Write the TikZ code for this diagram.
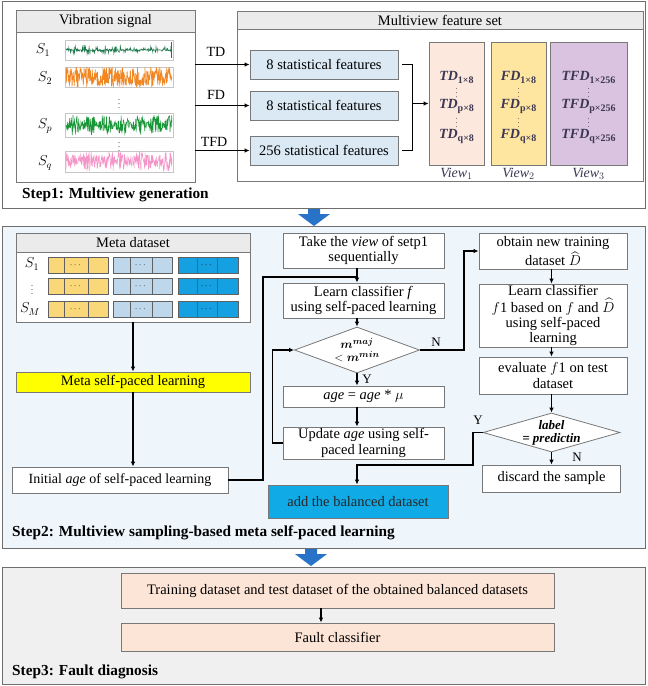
\documentclass[tikz,border=0pt]{standalone}
\usepackage{fontspec}
\usepackage{amsmath}
\setmainfont{Liberation Serif}
\usetikzlibrary{arrows.meta,shapes.geometric,calc}
\definecolor{boxgray}{RGB}{120,120,120}
\definecolor{panelgray}{RGB}{110,110,110}
\definecolor{headgray}{RGB}{235,235,235}
\definecolor{featblue}{RGB}{218,233,243}
\definecolor{vonecol}{RGB}{252,232,220}
\definecolor{vtwocol}{RGB}{255,230,160}
\definecolor{vthreecol}{RGB}{218,195,225}
\definecolor{cellY}{RGB}{250,215,120}
\definecolor{cellL}{RGB}{190,215,235}
\definecolor{cellB}{RGB}{20,160,225}
\definecolor{stepbg}{RGB}{238,245,251}
\definecolor{stepthreebg}{RGB}{240,240,240}
\definecolor{peach}{RGB}{252,228,214}
\definecolor{addblue}{RGB}{16,170,230}
\definecolor{arrowblue}{RGB}{40,115,200}
\definecolor{myyellow}{RGB}{255,255,0}
\definecolor{vtext}{RGB}{60,55,85}
\definecolor{sonecol}{RGB}{30,120,75}
\definecolor{stwocol}{RGB}{240,135,35}
\definecolor{spcol}{RGB}{25,150,55}
\definecolor{sqcol}{RGB}{245,150,200}
\newcommand{\vsub}[2]{\textbf{\textit{#1}}\raisebox{-3pt}{\fontsize{10}{10}\selectfont\bfseries #2}}
\begin{document}
\begin{tikzpicture}[x=1pt,y=-1pt,
  font=\fontsize{14.5}{15.5}\selectfont,
  box/.style={draw=boxgray, line width=0.8pt, align=center, inner sep=1pt},
  conn/.style={line width=1.2pt, -{Latex[length=5pt,width=4.5pt]}},
  plainline/.style={line width=1.2pt},
  vt/.style={text=vtext, font=\fontsize{14}{14}\selectfont, inner sep=0pt},
  vd/.style={text=vtext, font=\fontsize{8}{8}\selectfont, inner sep=0pt},
  lbl/.style={font=\fontsize{14}{15}\selectfont, inner sep=0pt},
  steplbl/.style={anchor=west, font=\fontsize{15.3}{16}\selectfont\bfseries, inner sep=0pt},
  dia/.style={diamond, draw=boxgray, line width=0.8pt, fill=white, inner sep=0pt},
  blockarrow/.style={fill=arrowblue}
]
\useasboundingbox (0,0) rectangle (648,686);
\fill[white] (0,0) rectangle (648,686);
\pgfmathsetseed{7}
% ---------------- Step 1 ----------------
\node[draw=panelgray, line width=0.8pt, fill=white, minimum width=643pt, minimum height=207pt, anchor=north west, inner sep=0] (p1) at (2,1) {};
\node[draw=boxgray, line width=0.8pt, fill=white, minimum width=179pt, minimum height=172pt, inner sep=0] (vib) at (105.5,96) {};
\node[draw=boxgray, line width=0.8pt, fill=headgray, minimum width=179pt, minimum height=22pt, anchor=north, inner sep=0] (vibh) at (vib.north) {Vibration signal};
% signals
\foreach \yt/\yb/\nm in {40/60/sa, 67/87/sb, 113/137/sc, 151/172/sd}{
  \node[draw=gray!45, fill=white, line width=0.6pt, minimum width=108pt, minimum height={\yb-\yt}, inner sep=0, anchor=north west] (\nm) at (65,\yt) {};
}
\begin{scope}
\clip (sa.north west) rectangle (sa.south east);
\draw[sonecol, line width=0.5pt] plot[domain=66:171, samples=260] (\x,{50+8*rand*rand*rand});
\draw[sonecol, line width=1pt] (171,42) -- (171,58);
\end{scope}
\begin{scope}
\clip (sb.north west) rectangle (sb.south east);
\draw[stwocol, line width=0.6pt] plot[domain=66:172, samples=320] (\x,{77+10*rand});
\end{scope}
\begin{scope}
\clip (sc.north west) rectangle (sc.south east);
\draw[spcol, line width=0.55pt] plot[domain=66:172, samples=320] (\x,{125+(2.5+8*abs(sin(\x*11)))*rand});
\end{scope}
\begin{scope}
\clip (sd.north west) rectangle (sd.south east);
\draw[sqcol, line width=0.45pt] plot[domain=66:172, samples=320] (\x,{161.5+(5+5*abs(sin(\x*7)))*rand});
\end{scope}
\node[lbl] (ls1) at (43,50) {$S_1$};
\node[lbl] (ls2) at (45,78) {$S_2$};
\node[vd, text=black] (ldots1) at (119,101) {$\vdots$};
\node[lbl] (lsp) at (45,126) {$S_p$};
\node[vd, text=black] (ldots2) at (119,144) {$\vdots$};
\node[lbl] (lsq) at (45,163) {$S_q$};

\node[draw=boxgray, line width=0.8pt, fill=white, minimum width=406pt, minimum height=170pt, inner sep=0] (mv) at (440,96) {};
\node[draw=boxgray, line width=0.8pt, fill=headgray, minimum width=406pt, minimum height=18pt, anchor=north, inner sep=0] (mvh) at (mv.north) {Multiview feature set};

\node[box, fill=featblue, minimum width=148pt, minimum height=29pt] (f1) at (324,64.5) {8 statistical  features};
\node[box, fill=featblue, minimum width=148pt, minimum height=29pt] (f2) at (324,105.5) {8 statistical  features};
\node[box, fill=featblue, minimum width=148pt, minimum height=29pt] (f3) at (324,150.5) {256 statistical  features};

\draw[conn] (vib.east |- f1.west) -- (f1.west);
\draw[conn] (vib.east |- f2.west) -- (f2.west);
\draw[conn] (vib.east |- f3.west) -- (f3.west);
\node[lbl] (ltd) at (216,52) {TD};
\node[lbl] (lfd) at (216,95) {FD};
\node[lbl] (ltfd) at (214,142) {TFD};

\node[box, fill=vonecol, minimum width=55pt, minimum height=123pt] (v1) at (456.5,103.5) {};
\node[box, fill=vtwocol, minimum width=55pt, minimum height=123pt] (v2) at (518.5,103.5) {};
\node[box, fill=vthreecol, minimum width=77pt, minimum height=123pt] (v3) at (588.5,103.5) {};

\draw[plainline] ($(f1.east)+(4,0)$) -- ++(10,0) coordinate (b1) -- (b1 |- f3.east) -- ($(f3.east)+(4,0)$);
\draw[conn] (b1 |- v1.west) -- (v1.west);

\node[vt] (v1a) at (456.5,77) {\vsub{TD}{1×8}};
\node[vd] (v1d1) at (456.5,90) {$\vdots$};
\node[vt] (v1b) at (456.5,106) {\vsub{TD}{p×8}};
\node[vd] (v1d2) at (456.5,120) {$\vdots$};
\node[vt] (v1c) at (456.5,136) {\vsub{TD}{q×8}};
\node[vt] (v2a) at (518.5,77) {\vsub{FD}{1×8}};
\node[vd] (v2d1) at (518.5,90) {$\vdots$};
\node[vt] (v2b) at (518.5,106) {\vsub{FD}{p×8}};
\node[vd] (v2d2) at (518.5,120) {$\vdots$};
\node[vt] (v2c) at (518.5,136) {\vsub{FD}{q×8}};
\node[vt] (v3a) at (588.5,77) {\vsub{TFD}{1×256}};
\node[vd] (v3d1) at (588.5,90) {$\vdots$};
\node[vt] (v3b) at (588.5,106) {\vsub{TFD}{p×256}};
\node[vd] (v3d2) at (588.5,120) {$\vdots$};
\node[vt] (v3c) at (588.5,136) {\vsub{TFD}{q×256}};
\node[vt] (vl1) at (456.5,174) {\textit{View}$_1$};
\node[vt] (vl2) at (518.5,174) {\textit{View}$_2$};
\node[vt] (vl3) at (588.5,174) {\textit{View}$_3$};

\node[steplbl] (st1) at (22,195) {Step1: Multiview  generation};

% block arrow 1
\fill[blockarrow] (308,209) -- (320,209) -- (320,214) -- (330,214) -- (314,226) -- (298,214) -- (308,214) -- cycle;

% ---------------- Step 2 ----------------
\node[draw=panelgray, line width=0.8pt, fill=stepbg, minimum width=643pt, minimum height=322pt, anchor=north west, inner sep=0] (p2) at (2,226) {};
\node[draw=boxgray, line width=0.8pt, fill=white, minimum width=234pt, minimum height=89pt, inner sep=0] (meta) at (133,277.5) {};
\node[draw=boxgray, line width=0.8pt, fill=headgray, minimum width=234pt, minimum height=19pt, anchor=north, inner sep=0] (metah) at (meta.north) {Meta dataset};
\foreach \cy in {265,286,309.5}{
  \foreach \a/\b/\c/\d/\col in {48/64/88/108/cellY, 113/130/152/172/cellL, 178/197/217/238/cellB}{
    \draw[draw=boxgray!80!black, line width=0.7pt, fill=\col] (\a,\cy-8) rectangle (\d,\cy+8);
    \draw[draw=boxgray!80!black, line width=0.7pt] (\b,\cy-8) -- (\b,\cy+8) (\c,\cy-8) -- (\c,\cy+8);
    \node[inner sep=0, font=\fontsize{9}{9}\selectfont] at ({(\b+\c)/2},\cy) {$\cdots$};
  }
}
\node[lbl] (ms1) at (32,264) {$S_1$};
\node[vd, text=black] (msd) at (32,287) {$\vdots$};
\node[lbl] (msm) at (30,309) {$S_M$};

\node[box, fill=myyellow, minimum width=234pt, minimum height=20pt] (mspl) at (133,382) {Meta self-paced  learning};
\node[box, fill=white, minimum width=216pt, minimum height=26pt, inner sep=0pt, font=\fontsize{14}{15}\selectfont] (init) at (120,480) {Initial \textit{age} of self-paced  learning};
\draw[conn] (meta.south) -- (mspl.north);
\draw[conn] (mspl.south) -- (mspl.south |- init.north);

\coordinate (colA) at (357,0);
\node[box, fill=white, minimum width=161pt, minimum height=35pt] (take) at (363.5,250.5) {Take the \textit{view} of setp1\\sequentially};
\node[box, fill=white, minimum width=161pt, minimum height=35pt] (learn) at (363.5,300.5) {Learn classifier \textit{f}\\using self-paced learning};
\node[dia, minimum width=125pt, minimum height=46pt] (d1) at (357,350) {};
\node[inner sep=0, align=center, font=\fontsize{13}{13}\selectfont] (d1t) at (357,350) {$\boldsymbol{m}^{\boldsymbol{maj}}$\\$<\boldsymbol{m}^{\boldsymbol{min}}$};
\node[box, fill=white, minimum width=161pt, minimum height=21pt] (agebox) at (363.5,396.5) {\textit{age} = \textit{age} * $\mu$};
\node[box, fill=white, minimum width=161pt, minimum height=32pt] (upd) at (363.5,443) {Update \textit{age} using self-\\paced learning};
\node[box, fill=addblue, minimum width=180pt, minimum height=33pt, text=black!85] (add) at (358,501.5) {add the balanced  dataset};

\coordinate (lp) at (263,277);
\draw[plainline] (init.east) -| (lp) -- (lp -| colA);
\draw[conn] (take.south -| colA) -- (learn.north -| colA);
\draw[conn] (learn.south -| colA) -- (d1.north);
\draw[conn] (d1.south) -- (d1.south |- agebox.north);
\draw[conn] (agebox.south -| colA) -- (upd.north -| colA);
\draw[conn] (upd.west) -- ++(-10,0) |- (d1.west);
\node[lbl, font=\fontsize{13}{13}\selectfont] (y1) at (367,379) {Y};
\node[lbl, font=\fontsize{13}{13}\selectfont] (n1) at (436,342) {N};

\node[box, fill=white, minimum width=148pt, minimum height=36pt] (obt) at (553,251) {obtain new training\\[1.5pt]dataset $\widehat{D}$};
\node[box, fill=white, minimum width=148pt, minimum height=63pt, font=\fontsize{14.5}{15}\selectfont] (lf1) at (553,315.5) {Learn classifier\\[1.5pt]$f$1 based on $f$ and $\widehat{D}$\\using self-paced\\learning};
\node[box, fill=white, minimum width=148pt, minimum height=37pt] (ev) at (553,375.5) {evaluate $f$1 on test\\dataset};
\node[dia, minimum width=137pt, minimum height=39pt] (d2) at (551.5,432.5) {};
\node[inner sep=0, align=center, font=\fontsize{13}{13}\selectfont\bfseries\itshape] (d2t) at (551.5,433) {label\\= predictin};
\node[box, fill=white, minimum width=138pt, minimum height=27pt] (disc) at (551.5,478.5) {discard the sample};

\draw[conn] (d1.east) -- ++(44,0) |- (obt.west);
\draw[conn] (obt.south -| d2.north) -- (lf1.north -| d2.north);
\draw[conn] (lf1.south -| d2.north) -- (ev.north -| d2.north);
\draw[conn] (ev.south -| d2.north) -- (d2.north);
\draw[conn] (d2.south) -- (disc.north);
\coordinate (j2) at (473,465);
\draw[conn] (d2.west) -| (j2) -- (j2 -| colA) -- (add.north -| colA);
\node[lbl, font=\fontsize{13}{13}\selectfont] (y2) at (478,420) {Y};
\node[lbl, font=\fontsize{13}{13}\selectfont] (n2) at (577,457) {N};

\node[steplbl] (st2) at (12,533) {Step2: Multiview  sampling-based  meta  self-paced learning};

% block arrow 2
\fill[blockarrow] (305,549) -- (317,549) -- (317,554) -- (327,554) -- (311,566) -- (295,554) -- (305,554) -- cycle;

% ---------------- Step 3 ----------------
\node[draw=panelgray, line width=0.8pt, fill=stepthreebg, minimum width=643pt, minimum height=117pt, anchor=north west, inner sep=0] (p3) at (2,567) {};
\node[box, fill=peach, minimum width=433pt, minimum height=35pt] (tbox) at (337.5,590.5) {Training  dataset and test dataset of the obtained  balanced  datasets};
\node[box, fill=peach, minimum width=433pt, minimum height=28pt] (fbox) at (337.5,637) {Fault classifier};
\coordinate (colC) at (321,0);
\draw[conn] (tbox.south -| colC) -- (fbox.north -| colC);
\node[steplbl] (st3) at (12,672) {Step3: Fault diagnosis};
\end{tikzpicture}
\end{document}
